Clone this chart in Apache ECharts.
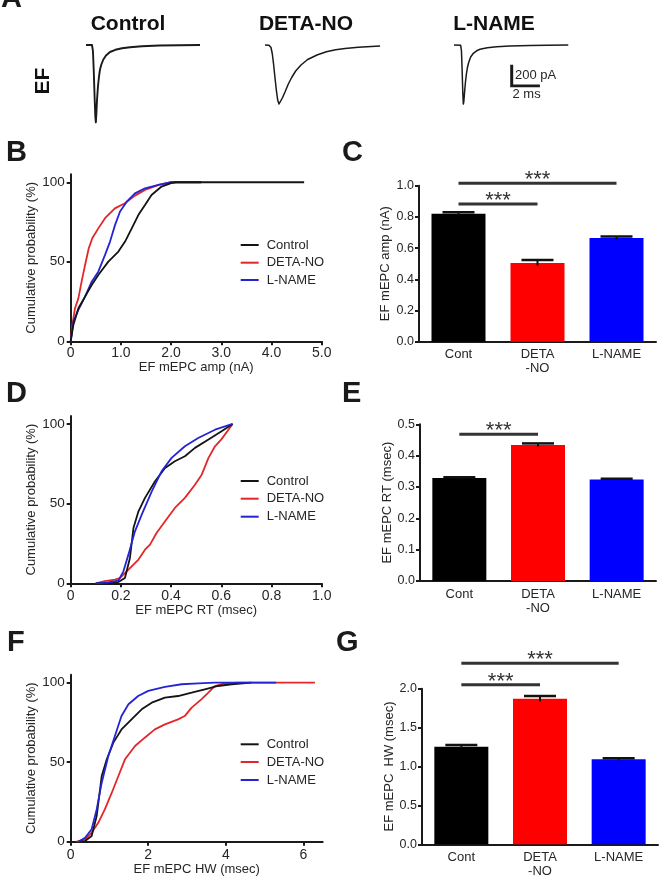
<!DOCTYPE html>
<html><head><meta charset="utf-8">
<script src="https://cdn.jsdelivr.net/npm/echarts@6/dist/echarts.min.js"></script>
<style>html,body{margin:0;padding:0;background:#fff}#c{width:663px;height:881px}</style>
</head><body><div id="c"></div>
<script>
const FONT = '"Liberation Sans", Arial, Helvetica, sans-serif';
const groups = ['Control', 'DETA-NO', 'L-NAME'];
const lineColors = ['#141414', '#e3262a', '#2424d4'];
const barColors = ['#000000', '#ff0000', '#0000ff'];
const barCats = ['Cont', 'DETA\n-NO', 'L-NAME'];
const traceTitles = ['Control', 'DETA-NO', 'L-NAME'];

// Panel A: example traces [time (ms), current (pA)]
const traceCtrl = [[0,0],[0.45,0],[0.52,-60],[0.58,-250],[0.64,-500],[0.7,-720],[0.74,-773],[0.78,-680],[0.83,-540],[0.9,-410],[0.98,-310],[1.05,-245],[1.15,-195],[1.3,-145],[1.5,-105],[1.8,-70],[2.2,-48],[2.7,-33],[3.3,-22],[4.2,-12],[5.5,-5],[7,-2],[8.55,0]];
const traceDeta = [[0,0],[0.3,-3],[0.45,-25],[0.55,-90],[0.65,-200],[0.75,-330],[0.85,-450],[0.95,-550],[1.05,-590],[1.15,-580],[1.3,-530],[1.5,-470],[1.75,-390],[2.0,-325],[2.3,-260],[2.7,-200],[3.2,-145],[3.9,-100],[4.6,-68],[5.3,-47],[6.0,-35],[7.0,-22],[8.63,-10]];
const traceLname = [[0,0],[0.5,-3],[0.56,-60],[0.61,-250],[0.66,-480],[0.7,-590],[0.74,-560],[0.8,-460],[0.86,-370],[0.93,-290],[1.0,-230],[1.1,-175],[1.25,-120],[1.45,-83],[1.7,-58],[1.95,-43],[2.5,-27],[3.2,-17],[4.2,-11],[5.7,-6],[7,-3],[8.57,0]];
const scaleBar = [[0,200],[0,0],[2,0]]; // 200 pA, 2 ms

// Panel B: cumulative amplitude (nA, %)
const ampCtrl = [[0,0],[0.053,10.3],[0.153,20.8],[0.286,28.1],[0.418,35.4],[0.55,41.7],[0.75,50.1],[0.95,56.4],[1.083,62.7],[1.216,71],[1.35,79.5],[1.48,85.7],[1.61,92],[1.81,97.3],[2.0,99.4],[2.1,100],[4.65,100]];
const ampDeta = [[0,0],[0.033,10.3],[0.086,20.8],[0.153,27],[0.22,38],[0.3,50],[0.36,58.5],[0.43,64.8],[0.55,71],[0.684,77.4],[0.88,83.6],[1.08,86.8],[1.28,91.6],[1.48,95.2],[1.75,98.3],[2.0,100],[2.6,100]];
const ampLname = [[0,0],[0.053,12.4],[0.153,19.7],[0.286,28.1],[0.418,37.5],[0.55,43.8],[0.684,54.3],[0.784,62.7],[0.884,73.2],[0.983,81.6],[1.116,87.8],[1.28,93],[1.48,96.2],[1.75,98.3],[2.0,100],[2.6,100]];
// Panel C
const ampMean = [0.82, 0.505, 0.665];
const ampErr = [0.01, 0.018, 0.01];
const ampSig = [[0, 2, 1.015], [0, 1, 0.883]];

// Panel D: cumulative rise time (msec, %)
const rtCtrl = [[0.1,0],[0.15,0.4],[0.19,0.8],[0.216,3.3],[0.236,15.9],[0.25,34.7],[0.27,45.2],[0.296,53.6],[0.336,64],[0.376,72.4],[0.415,76.6],[0.455,79.7],[0.495,85],[0.549,90.2],[0.601,95.4],[0.645,100]];
const rtDeta = [[0.1,0],[0.136,1.3],[0.176,2.3],[0.196,3.3],[0.23,8.6],[0.27,14.9],[0.296,21.1],[0.316,24.3],[0.342,31.6],[0.376,38.9],[0.415,47.3],[0.455,53.6],[0.495,61.9],[0.522,68.2],[0.549,78.7],[0.575,86],[0.601,90.5],[0.645,100]];
const rtLname = [[0.1,0],[0.15,0.6],[0.19,1.7],[0.21,7.5],[0.23,18],[0.256,32.6],[0.283,43.1],[0.323,57.7],[0.362,70.3],[0.402,78.7],[0.455,86],[0.508,91.2],[0.575,96.4],[0.645,100]];
// Panel E
const rtMean = [0.329, 0.434, 0.324];
const rtErr = [0.002, 0.005, 0.002];
const rtSig = [[0, 1, 0.468]];

// Panel F: cumulative half width (msec, %)
const hwCtrl = [[0.2,0],[0.37,0.4],[0.54,3.6],[0.67,16.1],[0.8,41.3],[0.93,51.8],[1.1,62.3],[1.31,70.6],[1.57,76.9],[1.83,83.2],[2.09,87.4],[2.43,90.6],[2.77,91.6],[3.12,93.7],[3.46,95.8],[3.8,97.9],[4.15,99],[4.66,100]];
const hwDeta = [[0.15,0],[0.37,1.5],[0.54,5.7],[0.71,11.9],[0.88,20.3],[1.06,30.8],[1.23,41.3],[1.4,51.8],[1.66,60.2],[1.91,65.4],[2.17,70.6],[2.43,73.8],[2.77,76.9],[2.94,79],[3.12,84.3],[3.37,89.5],[3.55,93.7],[3.72,97.9],[3.97,99.6],[4.32,100],[6.3,100]];
const hwLname = [[0.2,0],[0.37,2.5],[0.54,7.8],[0.67,20.3],[0.8,37.1],[0.97,53.9],[1.14,66.5],[1.31,79],[1.49,86.4],[1.74,91.6],[2.0,94.8],[2.43,97.3],[2.86,99],[3.29,99.6],[3.72,100],[5.3,100]];
// Panel G
const hwMean = [1.255, 1.871, 1.092];
const hwErr = [0.02, 0.035, 0.015];
const hwSig = [[0, 2, 2.326], [0, 1, 2.05]];

// Tick labels
const cumTicks = [0, 50, 100];
const ampTicks = [0, 1, 2, 3, 4, 5];
const rtTicks = [0, 0.2, 0.4, 0.6, 0.8, 1.0];
const hwTicks = [0, 2, 4, 6];

const AX = '#1a1a1a', TX = '#262626';

const grids = [
  {left: 86, top: 43, width: 116, height: 82},
  {left: 265, top: 43, width: 116, height: 82},
  {left: 454, top: 43, width: 116, height: 82},
  {left: 511.7, top: 66, width: 26.7, height: 20},
  {left: 70.7, top: 174.3, width: 251, height: 167},
  {left: 419, top: 185.7, width: 237, height: 156},
  {left: 70.7, top: 416, width: 251, height: 167.3},
  {left: 420, top: 424.3, width: 236, height: 156.7},
  {left: 70.7, top: 674.7, width: 252, height: 167},
  {left: 422, top: 688.7, width: 236, height: 155.6}
].map(g => Object.assign({outerBoundsMode: 'none', containLabel: false}, g));

const xAxes = [], yAxes = [];
function hidden(gi, x0, x1, y0, y1) {
  xAxes.push({type: 'value', gridIndex: gi, min: x0, max: x1, show: false});
  yAxes.push({type: 'value', gridIndex: gi, min: y0, max: y1, show: false});
}
hidden(0, 0, 8.7, -800, 20);
hidden(1, 0, 8.7, -800, 20);
hidden(2, 0, 8.7, -800, 20);
hidden(3, 0, 2, 0, 200);

function cumAxes(gi, xmax, ticks, dec, name, nameGap, labMargin) {
  xAxes.push({
    type: 'value', gridIndex: gi, min: 0, max: xmax, interval: ticks[1] - ticks[0],
    axisLine: {show: true, onZero: false, lineStyle: {color: AX, width: 2}},
    axisTick: {show: true, length: 4, lineStyle: {color: AX, width: 2}, customValues: ticks},
    axisLabel: {customValues: ticks, fontSize: 14, color: TX, fontFamily: FONT, margin: labMargin,
      formatter: v => (ticks.some(t => Math.abs(t - v) < 1e-9) ? (v === 0 ? '0' : v.toFixed(dec)) : '')},
    splitLine: {show: false},
    name: name, nameLocation: 'middle', nameGap: nameGap,
    nameTextStyle: {fontSize: 13, color: TX, fontFamily: FONT}
  });
  yAxes.push({
    type: 'value', gridIndex: gi, min: 0, max: 105, interval: 50,
    axisLine: {show: true, onZero: false, lineStyle: {color: AX, width: 2}},
    axisTick: {show: true, length: 4, lineStyle: {color: AX, width: 2}, customValues: cumTicks},
    axisLabel: {customValues: cumTicks, fontSize: 13.5, color: TX, fontFamily: FONT, margin: 6,
      formatter: v => (cumTicks.indexOf(v) >= 0 ? String(v) : '')},
    splitLine: {show: false},
    name: 'Cumulative probability (%)', nameLocation: 'middle', nameGap: 29,
    nameTextStyle: {fontSize: 13, color: TX, fontFamily: FONT}
  });
}
function barAxes(gi, ymax, interval, name, nameGap) {
  xAxes.push({
    type: 'category', gridIndex: gi, data: barCats,
    axisLine: {show: true, lineStyle: {color: AX, width: 2}},
    axisTick: {show: false},
    axisLabel: {fontSize: 13, color: TX, fontFamily: FONT, margin: 6, lineHeight: 14, interval: 0}
  });
  yAxes.push({
    type: 'value', gridIndex: gi, min: 0, max: ymax, interval: interval,
    axisLine: {show: true, lineStyle: {color: AX, width: 2}},
    axisTick: {show: true, length: 4, lineStyle: {color: AX, width: 2}},
    axisLabel: {fontSize: 12.5, color: TX, fontFamily: FONT, margin: 5, formatter: v => v.toFixed(1)},
    splitLine: {show: false},
    name: name, nameLocation: 'middle', nameGap: nameGap,
    nameTextStyle: {fontSize: 13, color: TX, fontFamily: FONT}
  });
}
cumAxes(4, 5, ampTicks, 1, 'EF mEPC amp (nA)', 18, 5);
barAxes(5, 1.0, 0.2, 'EF mEPC amp (nA)', 27);
cumAxes(6, 1, rtTicks, 1, 'EF mEPC RT (msec)', 19, 6);
barAxes(7, 0.5, 0.1, 'EF mEPC RT (msec)', 23);
cumAxes(8, 6.5, hwTicks, 0, 'EF mEPC HW (msec)', 21, 6);
barAxes(9, 2.0, 0.5, 'EF mEPC  HW (msec)', 22);

const series = [];
[traceCtrl, traceDeta, traceLname].forEach((d, i) => {
  series.push({type: 'line', xAxisIndex: i, yAxisIndex: i, data: d, symbol: 'none',
    smooth: false, silent: true,
    lineStyle: {color: '#1a1a1a', width: i === 0 ? 1.9 : 1.5, join: 'round'}});
});
series.push({type: 'line', xAxisIndex: 3, yAxisIndex: 3, data: scaleBar, symbol: 'none', silent: true,
  lineStyle: {color: '#1a1a1a', width: 3, cap: 'square', join: 'miter'}});

function cumSeries(gi, sets, order) {
  order.forEach(k => {
    series.push({type: 'line', name: groups[k], xAxisIndex: gi, yAxisIndex: gi, data: sets[k],
      symbol: 'none', color: lineColors[k], lineStyle: {color: lineColors[k], width: 1.8}, silent: true});
  });
}
cumSeries(4, [ampCtrl, ampDeta, ampLname], [1, 2, 0]);
cumSeries(6, [rtCtrl, rtDeta, rtLname], [1, 0, 2]);
cumSeries(8, [hwCtrl, hwDeta, hwLname], [1, 0, 2]);

function barSeries(gi, mean, err, sig) {
  series.push({type: 'bar', xAxisIndex: gi, yAxisIndex: gi, barWidth: 54, silent: true,
    data: mean.map((v, i) => ({value: v, itemStyle: {color: barColors[i]}}))});
  series.push({type: 'custom', xAxisIndex: gi, yAxisIndex: gi, z: 3, silent: true,
    data: mean.map((m, i) => [i, m, err[i]]), encode: {x: 0, y: 1},
    renderItem: (p, api) => {
      const c = api.value(0), m = api.value(1), e = api.value(2);
      const t = api.coord([c, m + e]), b = api.coord([c, m - e]);
      const hw = 16;
      return {type: 'group', children: [
        {type: 'line', shape: {x1: t[0], y1: t[1], x2: b[0], y2: b[1]}, style: {stroke: '#111', lineWidth: 2}},
        {type: 'line', shape: {x1: t[0] - hw, y1: t[1], x2: t[0] + hw, y2: t[1]}, style: {stroke: '#111', lineWidth: 2.5}}
      ]};
    }});
  series.push({type: 'custom', xAxisIndex: gi, yAxisIndex: gi, z: 4, silent: true, clip: false,
    data: sig, encode: {x: 0, y: 2},
    renderItem: (p, api) => {
      const a = api.coord([api.value(0), api.value(2)]);
      const b = api.coord([api.value(1), api.value(2)]);
      return {type: 'group', children: [
        {type: 'line', shape: {x1: a[0], y1: a[1], x2: b[0], y2: b[1]}, style: {stroke: '#333', lineWidth: 3}},
        {type: 'text', x: (a[0] + b[0]) / 2, y: a[1] - 3,
          style: {text: '***', fontSize: 22, fontFamily: FONT, fill: '#333', align: 'center', verticalAlign: 'middle'}}
      ]};
    }});
}
barSeries(5, ampMean, ampErr, ampSig);
barSeries(7, rtMean, rtErr, rtSig);
barSeries(9, hwMean, hwErr, hwSig);

const legends = [];
[[245, 262.7, 280], [481, 498.7, 516.7], [744.3, 762, 780]].forEach(ys => {
  ys.forEach((y, k) => {
    legends.push({left: 240.7, top: y - 7, data: [groups[k]], icon: 'rect', itemWidth: 18, itemHeight: 2,
      padding: 0, selectedMode: false,
      textStyle: {fontSize: 13, lineHeight: 14, color: TX, fontFamily: FONT, padding: [0, 0, 0, 3]}});
  });
});

const texts = [];
function txt(s, x, y, size, opt) {
  texts.push(Object.assign({type: 'text', x: x, y: y, silent: true,
    style: {text: s, fontSize: size, fontFamily: FONT, fontWeight: (opt && opt.w) || 'normal',
      fill: (opt && opt.fill) || '#111', align: (opt && opt.align) || 'left', verticalAlign: 'middle'}},
    opt && opt.rot ? {rotation: opt.rot} : {}));
}
// panel letters
[['A', 1, -1.5], ['B', 6, 152.5], ['C', 342, 152.5], ['D', 6, 394], ['E', 342, 394], ['F', 7, 643], ['G', 336, 643]]
  .forEach(l => txt(l[0], l[1], l[2], 29, {w: 'bold', fill: '#1a1a1a'}));
// trace titles
[[128, 24], [306, 24], [494, 24]].forEach((p, i) => txt(traceTitles[i], p[0], p[1], 21, {w: 'bold', align: 'center'}));
txt('EF', 43, 81, 21, {w: 'bold', align: 'center', rot: Math.PI / 2});
txt('200 pA', 515, 75.5, 13, {fill: TX});
txt('2 ms', 512.5, 94.5, 13, {fill: TX});

const chart = echarts.init(document.getElementById('c'), null, {renderer: 'canvas'});
chart.setOption({
  animation: false,
  backgroundColor: '#fff',
  textStyle: {fontFamily: FONT},
  grid: grids,
  xAxis: xAxes,
  yAxis: yAxes,
  legend: legends,
  series: series,
  graphic: {elements: texts}
});
</script></body></html>
